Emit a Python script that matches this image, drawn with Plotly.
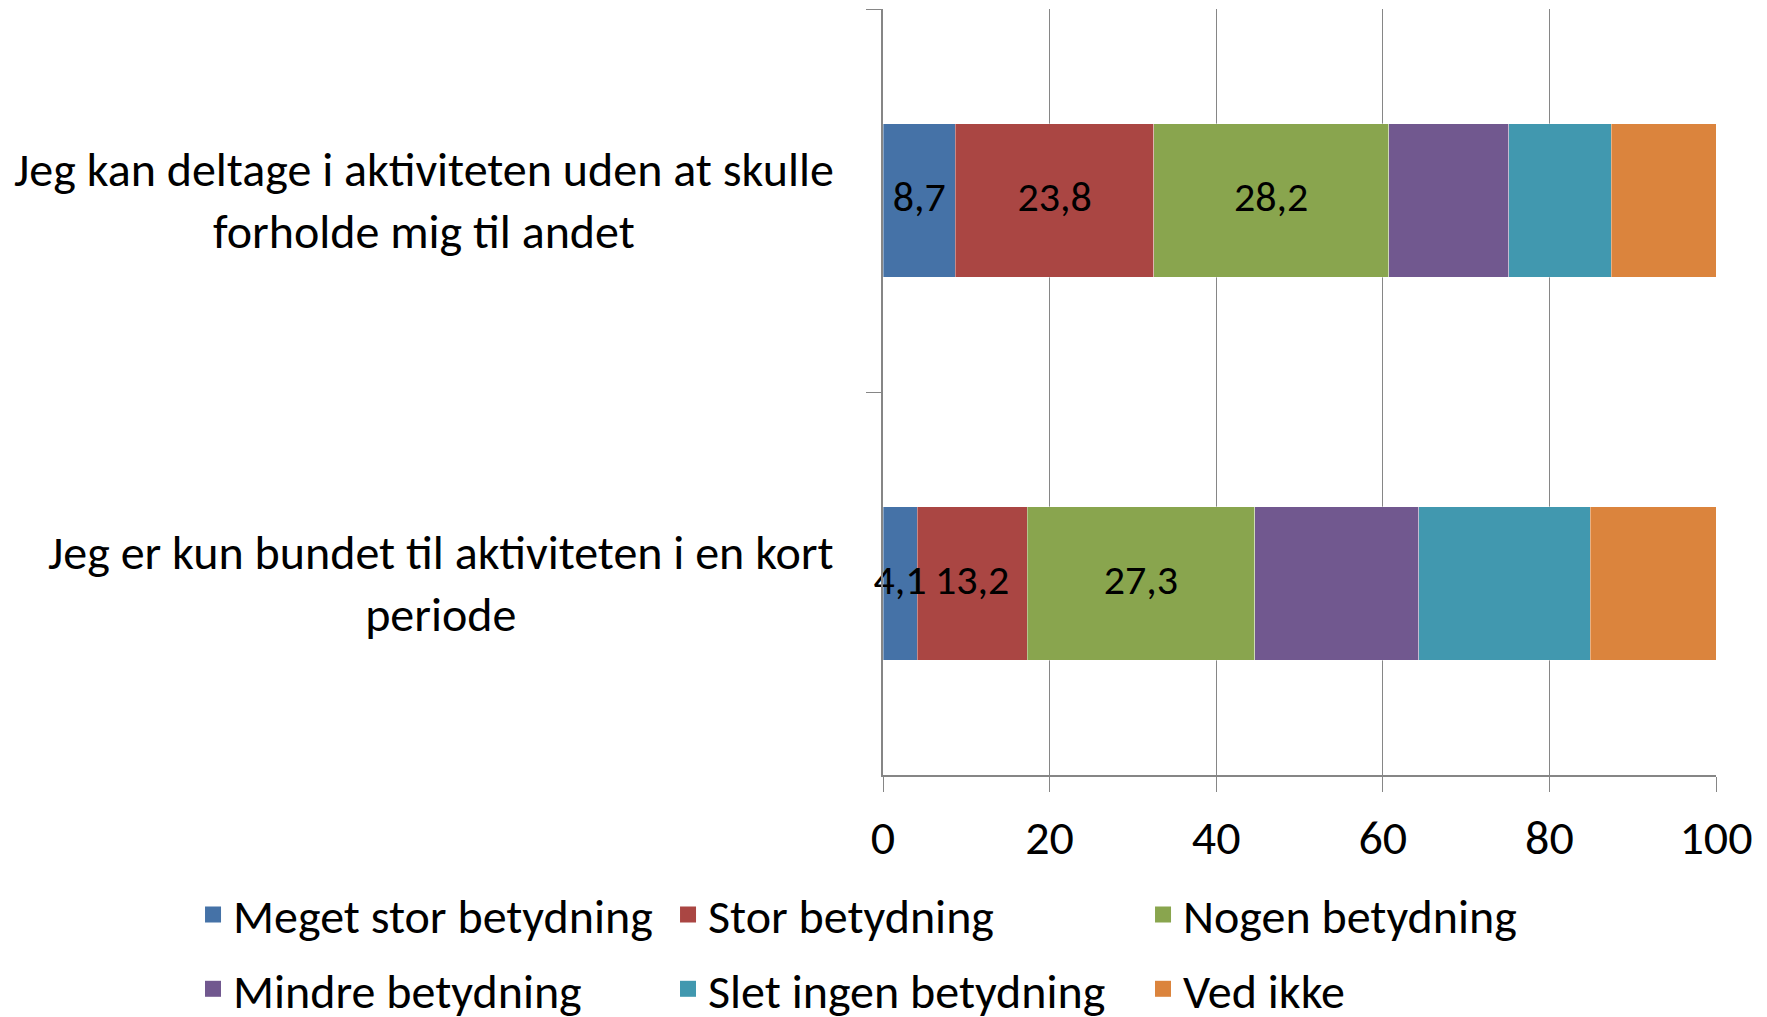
import plotly.graph_objects as go

categories = [
    "Jeg kan deltage i aktiviteten uden at skulle<br>forholde mig til andet",
    "Jeg er kun bundet til aktiviteten i en kort<br>periode",
]
series_names = ["Meget stor betydning", "Stor betydning", "Nogen betydning",
                "Mindre betydning", "Slet ingen betydning", "Ved ikke"]
meget_stor = [8.7, 4.1]
stor = [23.8, 13.2]
nogen = [28.2, 27.3]
mindre = [14.4, 19.7]
slet_ingen = [12.3, 20.6]
ved_ikke = [12.6, 15.1]
show_labels = [True, True, True, False, False, False]
x_ticks = [0, 20, 40, 60, 80, 100]

colors = ["#4572A7", "#AA4643", "#89A54E", "#71588F", "#4198AF", "#DB843D"]
FONT = "Carlito, Calibri, sans-serif"
FS = 48
FS_LABEL = 42
GRID = "#868686"

all_series = [meget_stor, stor, nogen, mindre, slet_ingen, ved_ikke]
legend_ids = ["legend", "legend", "legend", "legend2", "legend2", "legend2"]

fig = go.Figure()
for name, vals, col in zip(series_names, all_series, colors):
    fig.add_trace(go.Bar(
        y=categories, x=vals, name=name, orientation="h",
        marker=dict(color=col, line=dict(width=0.6, color="rgba(255,255,255,0.6)")),
        showlegend=False, hoverinfo="name+x",
    ))

# data labels drawn above all bars (centred in each segment via the stack)
base = [0.0] * len(categories)
for name, vals, lab in zip(series_names, all_series, show_labels):
    mids = [b + v / 2 for b, v in zip(base, vals)]
    if lab:
        fig.add_trace(go.Scatter(
            x=mids, y=categories, mode="text",
            text=[f"{v:.1f}".replace(".", ",") for v in vals],
            textposition="middle center",
            textfont=dict(family=FONT, size=FS_LABEL, color="black"),
            showlegend=False, hoverinfo="skip", cliponaxis=False,
        ))
    base = [b + v for b, v in zip(base, vals)]

# legend entries (square swatches)
for name, col, lg in zip(series_names, colors, legend_ids):
    fig.add_trace(go.Scatter(
        x=[None], y=[None], mode="markers", name=name, legend=lg,
        marker=dict(symbol="square", size=16, color=col),
        showlegend=True,
    ))

for c in categories:
    fig.add_annotation(
        x=0, xref="paper", y=c, yref="y", text=c, showarrow=False,
        xanchor="right", yanchor="middle", align="center", xshift=-47,
        font=dict(family=FONT, size=FS, color="black"),
    )

legend_common = dict(
    orientation="h", xanchor="left", yanchor="middle",
    entrywidth=430, entrywidthmode="pixels", itemsizing="trace",
    font=dict(family=FONT, size=FS, color="black"),
    traceorder="normal", bgcolor="rgba(0,0,0,0)", borderwidth=0,
)

fig.update_layout(
    barmode="stack", bargap=0.6,
    width=1759, height=1009,
    margin=dict(l=875, r=51, t=1, b=242, autoexpand=False),
    paper_bgcolor="white", plot_bgcolor="white",
    font=dict(family=FONT, size=FS, color="black"),
    showlegend=True,
    legend=dict(x=-0.8283, y=-0.1825, **legend_common),
    legend2=dict(x=-0.8283, y=-0.2795, **legend_common),
    xaxis=dict(
        range=[0, 100], tickvals=x_ticks, ticktext=[str(t) for t in x_ticks],
        ticks="outside", ticklen=15, tickcolor=GRID,
        showgrid=True, gridcolor=GRID, gridwidth=1,
        showline=True, linecolor=GRID, linewidth=1.5, zeroline=False,
        ticklabelstandoff=5,
        tickfont=dict(family=FONT, size=FS, color="black"),
    ),
    yaxis=dict(
        type="category", autorange="reversed",
        ticks="outside", tickson="boundaries", ticklen=15, tickcolor=GRID,
        showline=True, linecolor=GRID, linewidth=1.5,
        showgrid=False, showticklabels=False,
    ),
)

fig.write_html("out.html")
